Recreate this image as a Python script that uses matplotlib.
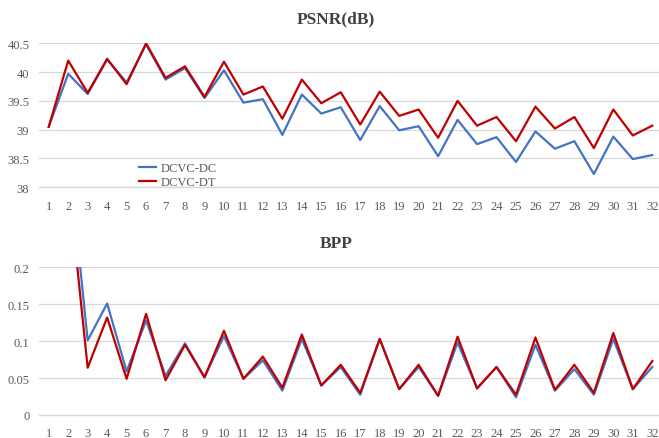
import matplotlib
matplotlib.use("Agg")
import matplotlib.pyplot as plt

frames = list(range(1, 33))
psnr_dc = [39.05, 39.97, 39.62, 40.22, 39.82, 40.48, 39.87, 40.07, 39.55, 40.03,
           39.47, 39.53, 38.91, 39.61, 39.28, 39.39, 38.82, 39.41, 38.99, 39.06,
           38.54, 39.17, 38.75, 38.87, 38.44, 38.97, 38.67, 38.80, 38.23, 38.88,
           38.49, 38.56]
psnr_dt = [39.05, 40.20, 39.64, 40.23, 39.79, 40.50, 39.90, 40.10, 39.57, 40.18,
           39.61, 39.75, 39.19, 39.87, 39.46, 39.65, 39.09, 39.66, 39.24, 39.35,
           38.86, 39.50, 39.07, 39.22, 38.80, 39.40, 39.02, 39.22, 38.68, 39.35,
           38.90, 39.07]
bpp_dc = [0.60, 0.36, 0.101, 0.151, 0.059, 0.128, 0.053, 0.097, 0.051, 0.107,
          0.049, 0.074, 0.033, 0.103, 0.040, 0.065, 0.0275, 0.103, 0.035, 0.065,
          0.026, 0.098, 0.036, 0.065, 0.024, 0.095, 0.033, 0.062, 0.0275, 0.103,
          0.035, 0.065]
bpp_dt = [0.60, 0.32, 0.064, 0.132, 0.049, 0.137, 0.047, 0.095, 0.051, 0.114,
          0.049, 0.079, 0.037, 0.109, 0.040, 0.068, 0.030, 0.103, 0.035, 0.068,
          0.026, 0.106, 0.036, 0.065, 0.0275, 0.105, 0.034, 0.068, 0.030, 0.111,
          0.035, 0.073]

psnr_ticks = [38, 38.5, 39, 39.5, 40, 40.5]
psnr_labels = ["38", "38.5", "39", "39.5", "40", "40.5"]
bpp_ticks = [0, 0.05, 0.1, 0.15, 0.2]
bpp_labels = ["0", "0.05", "0.1", "0.15", "0.2"]

BLUE = "#4472C4"
RED = "#C00000"
GRID = "#d9d9d9"
TXT = "#595959"
SERIF = ["Liberation Serif", "DejaVu Serif"]

W, H = 659, 439
fig = plt.figure(figsize=(W / 100, H / 100), dpi=100)

def make_axes(top_px, bottom_px):
    left_px, right_px = 39, 662
    return fig.add_axes([left_px / W, 1 - bottom_px / H,
                         (right_px - left_px) / W, (bottom_px - top_px) / H])

def style(ax, ticks, labels, ylim):
    ax.set_xlim(0.5, 32.5)
    ax.set_ylim(*ylim)
    ax.set_yticks(ticks)
    ax.set_yticklabels(labels)
    ax.set_xticks(frames)
    ax.set_xticklabels([str(f) for f in frames])
    for s in ["top", "right", "left"]:
        ax.spines[s].set_visible(False)
    ax.spines["bottom"].set_color(GRID)
    ax.spines["bottom"].set_linewidth(1.0)
    ax.grid(axis="y", color=GRID, linewidth=0.9)
    ax.set_axisbelow(True)
    ax.tick_params(axis="both", length=0, labelsize=9, colors=TXT)
    ax.tick_params(axis="x", pad=9)
    ax.tick_params(axis="y", pad=7)
    for lab in ax.get_xticklabels() + ax.get_yticklabels():
        lab.set_family(SERIF)
        lab.set_color(TXT)

ax1 = make_axes(44.3, 188.3)
ax1.plot(frames, psnr_dc, color=BLUE, lw=1.6, label="DCVC-DC")
ax1.plot(frames, psnr_dt, color=RED, lw=1.6, label="DCVC-DT")
style(ax1, psnr_ticks, psnr_labels, (38, 40.5))
leg = ax1.legend(loc="lower left", bbox_to_anchor=(0.152, -0.04), frameon=False,
                 prop={"family": SERIF, "size": 9}, handlelength=1.4,
                 handletextpad=0.35, labelspacing=0.15, borderaxespad=0)
for t in leg.get_texts():
    t.set_color(TXT)

ax2 = make_axes(268.3, 416)
ax2.plot(frames, bpp_dc, color=BLUE, lw=1.6)
ax2.plot(frames, bpp_dt, color=RED, lw=1.6)
style(ax2, bpp_ticks, bpp_labels, (0, 0.2))

fig.text(336 / W, 1 - 19 / H, "PSNR(dB)", ha="center", va="center",
         family=SERIF, fontsize=12.5, fontweight="bold", color="#404040")
fig.text(336 / W, 1 - 244 / H, "BPP", ha="center", va="center",
         family=SERIF, fontsize=12.5, fontweight="bold", color="#404040")

fig.savefig("out.png", dpi=100)
